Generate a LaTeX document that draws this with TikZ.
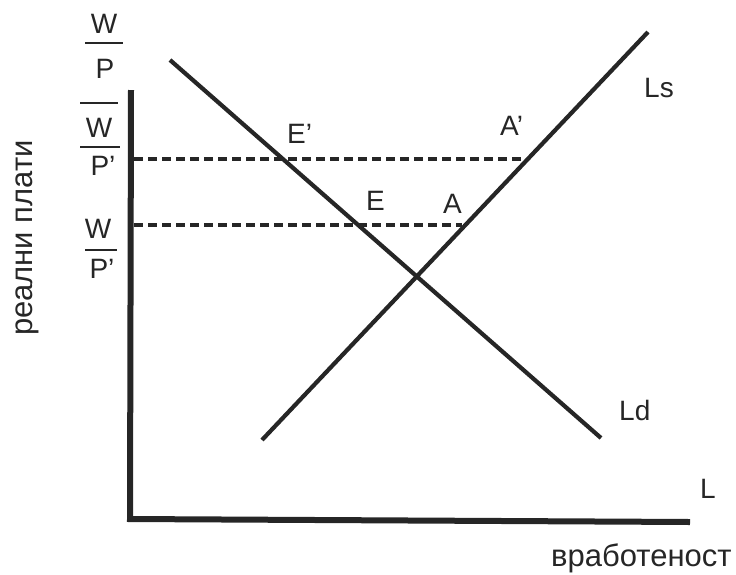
\documentclass[tikz,border=0pt]{standalone}
\usepackage{fontspec}
\setmainfont{Liberation Sans}
\begin{document}
\begin{tikzpicture}[x=1pt,y=-1pt,
  lbl/.style={inner sep=0pt,anchor=base west,font=\fontsize{28}{32}\selectfont,text=black!85},
  cyr/.style={inner sep=0pt,font=\fontsize{31}{34}\selectfont,text=black!85},
  flbl/.style={inner sep=0pt,anchor=base,font=\fontsize{28}{32}\selectfont,text=black!85},
  axis/.style={line width=6pt,draw=black!85},
  curve/.style={line width=4.2pt,draw=black!85},
  fbar/.style={line width=1.6pt,draw=black!85},
  dashline/.style={line width=4pt,draw=black!85,dash pattern=on 9pt off 5pt}]
\useasboundingbox (0,0) rectangle (736,574);
% axes
\coordinate (top) at (131,90);
\coordinate (org) at (130,522);
\coordinate (xend) at (690,522);
\draw[axis] (top) -- ([yshift=3pt]org) -- (xend);
% curves
\coordinate (ls1) at (262,440);
\coordinate (ls2) at (648,32);
\coordinate (ld1) at (170,60);
\coordinate (ld2) at (601,438);
\draw[curve] (ls1) -- (ls2);
\draw[curve] (ld1) -- (ld2);
% dashed lines
\coordinate (d1s) at (134,159);
\coordinate (d1e) at (524,159);
\coordinate (d2s) at (134,225);
\coordinate (d2e) at (462,225);
\draw[dashline] (d1s) -- (d1e);
\draw[dashline] (d2s) -- (d2e);
% point labels
\node[lbl] (Ep) at (287,143) {E’};
\node[lbl] (Ap) at (500,135) {A’};
\node[lbl] (E) at (366,210) {E};
\node[lbl] (A) at (443,213) {A};
\node[lbl] (Ls) at (644,97) {Ls};
\node[lbl] (Ld) at (619,420) {Ld};
\node[lbl] (L) at (700,498) {L};
\node[cyr,anchor=base west] (xl) at (551,566) {вработеност};
\node[cyr,rotate=90] (yl) at (27,238) {реални плати};
% fractions
\node[flbl] (w1) at (104,33) {W};
\draw[fbar] (85,43) -- (123,43);
\node[flbl] (p1) at (105,78) {P};
\draw[fbar] (80,103) -- (118,103);
\node[flbl] (w2) at (99,137) {W};
\draw[fbar] (80,147) -- (120,147);
\node[flbl] (p2) at (103,175) {P’};
\node[flbl] (w3) at (98,238) {W};
\draw[fbar] (85,250) -- (117,250);
\node[flbl] (p3) at (102,278) {P’};
\end{tikzpicture}
\end{document}
